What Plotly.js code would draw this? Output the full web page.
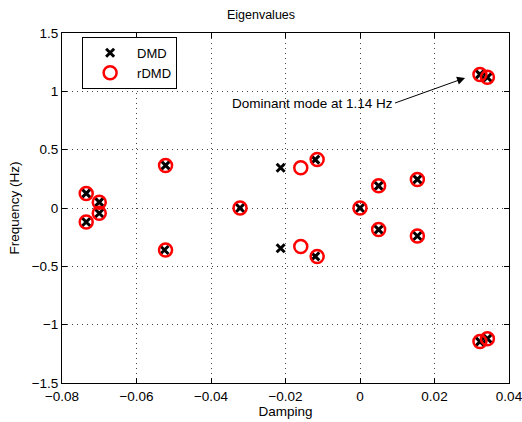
<!DOCTYPE html>
<html>
<head>
<meta charset="utf-8">
<script src="https://cdn.plot.ly/plotly-3.0.1.min.js"></script>
<style>html,body{margin:0;padding:0;background:#fff;}#chart{width:522px;height:422px;}</style>
</head>
<body>
<div id="chart"></div>
<script>
// Eigenvalues: damping (x) vs frequency in Hz (y)
const dmdDamping = [-0.0735, -0.0735, -0.0700, -0.0700, -0.0522, -0.0525, -0.0322, -0.0213, -0.0213, -0.0120, -0.0120, 0.0000, 0.0050, 0.0050, 0.0154, 0.0154, 0.0322, 0.0342, 0.0322, 0.0342];
const dmdFreq    = [0.125, -0.120, 0.050, -0.045, 0.365, -0.360, 0.000, 0.345, -0.345, 0.415, -0.415, 0.000, 0.190, -0.185, 0.245, -0.240, 1.145, 1.120, -1.145, -1.120];
const rdmdDamping = [-0.0735, -0.0735, -0.0700, -0.0700, -0.0522, -0.0522, -0.0322, -0.0159, -0.0159, -0.0115, -0.0115, 0.0000, 0.0050, 0.0050, 0.0154, 0.0154, 0.0322, 0.0342, 0.0322, 0.0342];
const rdmdFreq    = [0.125, -0.120, 0.050, -0.045, 0.365, -0.360, 0.000, 0.345, -0.330, 0.415, -0.415, 0.000, 0.190, -0.185, 0.245, -0.240, 1.145, 1.120, -1.145, -1.120];
const seriesNames = ["DMD", "rDMD"];
const xTicks = [-0.08, -0.06, -0.04, -0.02, 0, 0.02, 0.04];
const yTicks = [-1.5, -1, -0.5, 0, 0.5, 1, 1.5];
const annoText = "Dominant mode at 1.14 Hz";
const annoHead = [0.0282, 1.115];
const annoTail = [0.0094, 0.90];

const font = "Liberation Sans, Arial, Helvetica, sans-serif";
const fs = 13.5;

const traces = [
  {
    x: dmdDamping, y: dmdFreq, name: seriesNames[0], type: "scatter", mode: "markers",
    marker: {symbol: "x-thin", size: 8, color: "#000", line: {color: "#000", width: 3}}
  },
  {
    x: rdmdDamping, y: rdmdFreq, name: seriesNames[1], type: "scatter", mode: "markers",
    marker: {symbol: "circle-open", size: 13, color: "#ff0000", line: {color: "#ff0000", width: 2.5}}
  }
];

const axisCommon = {
  showline: true, linecolor: "#000", linewidth: 1, mirror: "ticks",
  ticks: "inside", ticklen: 5, tickcolor: "#000", tickwidth: 1,
  showgrid: true, gridcolor: "#444", griddash: "1px,4px", gridwidth: 1,
  zeroline: false, ticklabeloverflow: "allow",
  tickfont: {family: font, size: fs, color: "#000"}
};

const layout = {
  width: 522, height: 422,
  margin: {l: 62, r: 13, t: 33, b: 39},
  paper_bgcolor: "#fff", plot_bgcolor: "#fff",
  font: {family: font, color: "#000"},
  title: {text: "Eigenvalues", font: {family: font, size: 12.5, color: "#000"}, x: 0.5, xanchor: "center", y: 0.975, yanchor: "top"},
  xaxis: Object.assign({}, axisCommon, {
    range: [-0.08, 0.04], tickvals: xTicks, ticktext: xTicks.map(v => v === 0 ? "0" : (v < 0 ? "\u2212" + Math.abs(v).toFixed(2) : v.toFixed(2))),
    ticklabelstandoff: 1,
    title: {text: "Damping", font: {family: font, size: fs, color: "#000"}, standoff: 3}
  }),
  yaxis: Object.assign({}, axisCommon, {
    range: [-1.5, 1.5], tickvals: yTicks, ticktext: yTicks.map(v => v < 0 ? "\u2212" + Math.abs(v) : String(v)),
    title: {text: "Frequency (Hz)", font: {family: font, size: fs, color: "#000"}, standoff: 8}
  }),
  showlegend: true,
  legend: {
    x: 0.045, y: 0.989, xanchor: "left", yanchor: "top",
    bgcolor: "#fff", bordercolor: "#000", borderwidth: 1,
    itemwidth: 44, tracegroupgap: 0,
    font: {family: font, size: 13, color: "#000"}
  },
  annotations: [{
    x: annoHead[0], y: annoHead[1], ax: annoTail[0], ay: annoTail[1],
    xref: "x", yref: "y", axref: "x", ayref: "y",
    text: annoText, showarrow: true, arrowhead: 2, arrowsize: 1.6, arrowwidth: 1, arrowcolor: "#000",
    xanchor: "right", yanchor: "middle",
    font: {family: font, size: fs, color: "#000"}
  }]
};

Plotly.newPlot("chart", traces, layout, {displayModeBar: false, staticPlot: true});
</script>
</body>
</html>
